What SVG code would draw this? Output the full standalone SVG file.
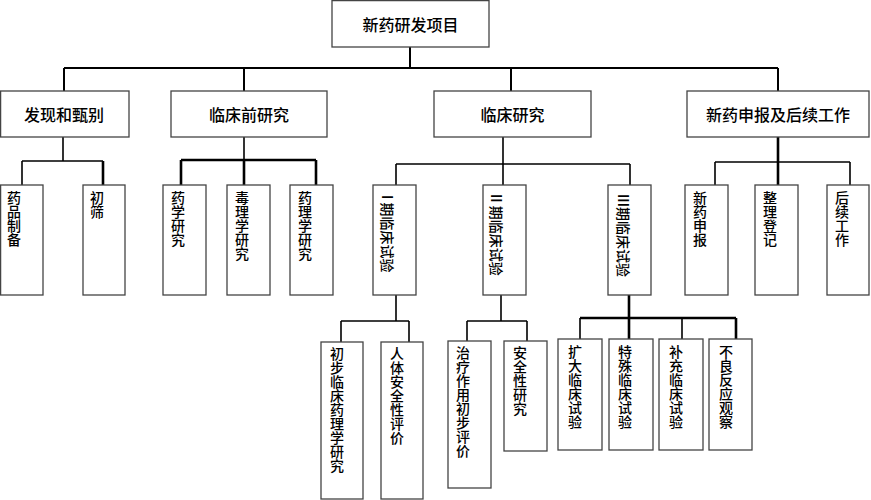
<svg xmlns="http://www.w3.org/2000/svg" width="871" height="500" viewBox="0 0 871 500">
<style>
.box{fill:#fff;stroke:#444;stroke-width:1.3}
.t{font-family:"Noto Sans CJK SC","Noto Sans",sans-serif;fill:#000;font-weight:500}
.h{font-size:16px;text-anchor:middle;dominant-baseline:central}
.v{font-size:14px;writing-mode:vertical-rl}
.r{font-size:14px;dominant-baseline:central}
.ln{fill:none;stroke:#000;stroke-width:1.6}
.lt{fill:none;stroke:#000;stroke-width:2.6}
</style>
<rect width="871" height="500" fill="#fff"/>
<g id="connectors">
<path class="ln" d="M410 47V68M64 68H778M64 68V91M244 68V91M511 68V91M778 68V91" style="stroke-width:2"/>
<path class="ln" d="M63 137V161M22 161H103M22 161V185"/>
<path class="lt" d="M103 161V185"/>
<path class="ln" d="M244 137V160"/>
<path class="lt" d="M181 160H316M181 160V185M244 160V185M316 160V185"/>
<path class="ln" d="M503 137V164M396 164H630M396 164V185M630 164V185M503 164V185"/>
<path class="lt" d="M778 137V185"/>
<path class="ln" d="M715 162H850M715 162V185M850 162V185"/>
<path class="ln" d="M396 295V321M341 321H409M341 321V342M409 321V342"/>
<path class="ln" d="M501 295V321M467 321H527M467 321V341M527 321V341"/>
<path class="lt" d="M629 295V318M580 318H736M629 318V339M736 318V339"/>
<path class="ln" d="M580 318V339M682 318V339"/>
</g>
<g id="root"><rect class="box" x="332" y="0.6" width="157" height="46.4"/><text class="t h" x="410.5" y="24">新药研发项目</text></g>
<g id="discovery"><rect class="box" x="0.6" y="91" width="128.4" height="46"/><text class="t h" x="64" y="114">发现和甄别</text></g>
<g id="preclinical"><rect class="box" x="171" y="91" width="156" height="46"/><text class="t h" x="249" y="114">临床前研究</text></g>
<g id="clinical"><rect class="box" x="434" y="91" width="157" height="46"/><text class="t h" x="512.5" y="114">临床研究</text></g>
<g id="filing"><rect class="box" x="687" y="91" width="182" height="46"/><text class="t h" x="778" y="114">新药申报及后续工作</text></g>

<g id="n-prep"><rect class="box" x="0.6" y="185" width="42.4" height="110"/><text class="t v" x="14" y="191">药品制备</text></g>
<g id="n-screen"><rect class="box" x="83" y="185" width="42" height="110"/><text class="t v" x="97" y="191">初筛</text></g>
<g id="n-pharm"><rect class="box" x="163" y="185" width="43" height="110"/><text class="t v" x="178" y="191">药学研究</text></g>
<g id="n-tox"><rect class="box" x="227" y="185" width="43" height="110"/><text class="t v" x="242" y="191">毒理学研究</text></g>
<g id="n-pharmacology"><rect class="box" x="290" y="185" width="43" height="110"/><text class="t v" x="305" y="191">药理学研究</text></g>
<g id="n-phase1"><rect class="box" x="373" y="185" width="43" height="110"/><text class="t r" transform="translate(388,195) rotate(90)">I 期临床试验</text></g>
<g id="n-phase2"><rect class="box" x="483" y="185" width="43" height="110"/><text class="t r" transform="translate(497,194) rotate(90)">II 期临床试验</text></g>
<g id="n-phase3"><rect class="box" x="608" y="185" width="43" height="110"/><text class="t r" transform="translate(624,194) rotate(90)">III期临床试验</text></g>
<g id="n-apply"><rect class="box" x="685" y="185" width="43" height="110"/><text class="t v" x="700" y="191">新药申报</text></g>
<g id="n-register"><rect class="box" x="755" y="185" width="43" height="110"/><text class="t v" x="770" y="191">整理登记</text></g>
<g id="n-follow"><rect class="box" x="827" y="185" width="42" height="110"/><text class="t v" x="842" y="191">后续工作</text></g>

<g id="p1a"><rect class="box" x="321" y="342" width="42" height="157"/><text class="t v" x="337" y="347">初步临床药理学研究</text></g>
<g id="p1b"><rect class="box" x="381" y="342" width="42" height="157"/><text class="t v" x="397" y="347">人体安全性评价</text></g>
<g id="p2a"><rect class="box" x="448" y="341" width="43" height="147"/><text class="t v" x="463" y="346">治疗作用初步评价</text></g>
<g id="p2b"><rect class="box" x="504" y="341" width="43" height="110"/><text class="t v" x="520" y="346">安全性研究</text></g>
<g id="p3a"><rect class="box" x="558" y="339" width="44" height="111"/><text class="t v" x="575" y="345">扩大临床试验</text></g>
<g id="p3b"><rect class="box" x="609" y="339" width="44" height="111"/><text class="t v" x="625" y="345">特殊临床试验</text></g>
<g id="p3c"><rect class="box" x="659" y="339" width="44" height="111"/><text class="t v" x="676" y="345">补充临床试验</text></g>
<g id="p3d"><rect class="box" x="709" y="339" width="43" height="111"/><text class="t v" x="726" y="345">不良反应观察</text></g>
</svg>
